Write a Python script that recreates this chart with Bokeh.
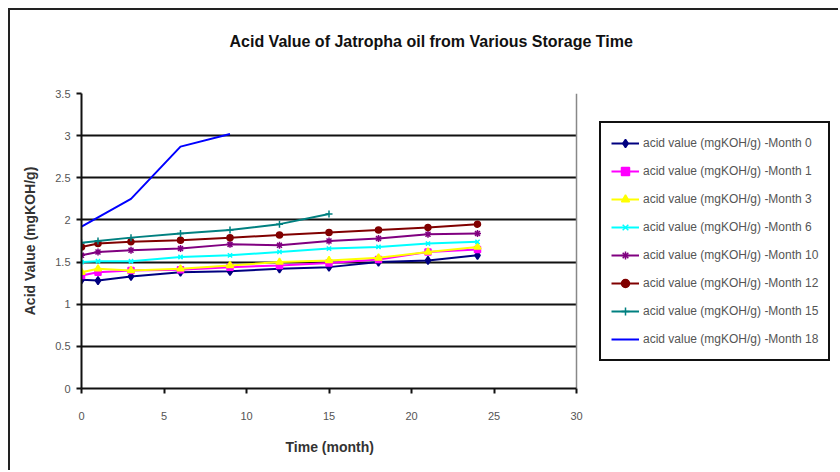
from bokeh.plotting import figure
from bokeh.models import Legend, LegendItem, FixedTicker, Title, Grid
from bokeh.embed import file_html
from bokeh.resources import INLINE

# ---- data ----
months = [0, 1, 3, 6, 9, 12, 15, 18, 21, 24]
av_m0 = [1.29, 1.28, 1.33, 1.38, 1.39, 1.42, 1.44, 1.50, 1.52, 1.58]
av_m1 = [1.34, 1.38, 1.40, 1.41, 1.44, 1.46, 1.49, 1.53, 1.62, 1.65]
av_m3 = [1.38, 1.42, 1.40, 1.42, 1.46, 1.50, 1.52, 1.55, 1.62, 1.68]
av_m6 = [1.50, 1.51, 1.51, 1.56, 1.58, 1.62, 1.66, 1.68, 1.72, 1.74]
av_m10 = [1.58, 1.62, 1.64, 1.66, 1.71, 1.70, 1.75, 1.78, 1.83, 1.84]
av_m12 = [1.68, 1.72, 1.74, 1.76, 1.79, 1.82, 1.85, 1.88, 1.91, 1.95]
months_m15 = [0, 1, 3, 6, 9, 12, 15]
av_m15 = [1.73, 1.75, 1.79, 1.84, 1.88, 1.95, 2.07]
months_m18 = [0, 3, 6, 9]
av_m18 = [1.92, 2.25, 2.87, 3.02]

labels = ["acid value (mgKOH/g) -Month 0", "acid value (mgKOH/g) -Month 1",
          "acid value (mgKOH/g) -Month 3", "acid value (mgKOH/g) -Month 6",
          "acid value (mgKOH/g) -Month 10", "acid value (mgKOH/g) -Month 12",
          "acid value (mgKOH/g) -Month 15", "acid value (mgKOH/g) -Month 18"]
x_ticks = [0, 5, 10, 15, 20, 25, 30]
y_ticks = [0, 0.5, 1, 1.5, 2, 2.5, 3, 3.5]
X_MAX, Y_MAX = 30, 3.5

FONT = "Liberation Sans"

# frame extends under the legend area; axes / grids are bounded to 0..30
p = figure(width=830, height=462, output_backend="svg", toolbar_location=None,
           x_range=(0, 46), y_range=(0, Y_MAX), title=None,
           min_border_left=71, min_border_right=0, min_border_top=83, min_border_bottom=84)
p.styles = {"border-left": "2px solid #222", "border-top": "2px solid #222",
            "margin-left": "8px", "margin-top": "8px"}

# spacer (nearest to frame) then the title above it
p.add_layout(Title(text=" ", text_font_size="1px", standoff=36), "above")
p.add_layout(Title(text="Acid Value of Jatropha oil from Various Storage Time",
                   text_font=FONT, text_font_size="16px", text_font_style="bold",
                   text_color="#111", align="left", offset=148, standoff=10), "above")

# x-axis title, centred under the 0..30 axis
p.add_layout(Title(text="Time (month)", text_font=FONT, text_font_size="14px",
                   text_font_style="bold", text_color="#333", align="left",
                   offset=204, vertical_align="top", standoff=32), "below")

p.outline_line_color = None
p.background_fill_color = "white"
p.border_fill_color = "white"

p.xgrid.visible = False
p.ygrid.ticker = FixedTicker(ticks=[0.5, 1, 1.5, 2, 2.5, 3])
p.ygrid.grid_line_color = "#111"
p.ygrid.grid_line_width = 2
p.ygrid.cross_bounds = (0, X_MAX)

# light plot-area border (top and right)
p.add_layout(Grid(dimension=1, ticker=FixedTicker(ticks=[Y_MAX]), cross_bounds=(0, X_MAX),
                  grid_line_color="#888888", grid_line_width=1.5))
p.add_layout(Grid(dimension=0, ticker=FixedTicker(ticks=[X_MAX]), cross_bounds=(0, Y_MAX),
                  grid_line_color="#888888", grid_line_width=1.5))

for ax in (p.xaxis[0], p.yaxis[0]):
    ax.axis_line_color = "#111"
    ax.axis_line_width = 2
    ax.major_tick_line_color = "#111"
    ax.major_tick_line_width = 2
    ax.major_tick_out = 5
    ax.major_tick_in = 0
    ax.minor_tick_line_color = None
    ax.major_label_text_font = FONT
    ax.major_label_text_font_size = "11px"
    ax.major_label_text_color = "#555"
    ax.axis_label_text_font = FONT
    ax.axis_label_text_font_size = "14px"
    ax.axis_label_text_font_style = "bold"
    ax.axis_label_text_color = "#333"

p.xaxis.bounds = (0, X_MAX)
p.xaxis.ticker = FixedTicker(ticks=x_ticks)
p.yaxis.ticker = FixedTicker(ticks=y_ticks)
p.yaxis.axis_label = "Acid Value (mgKOH/g)"
p.xaxis.major_label_standoff = 18
p.yaxis.major_label_standoff = 6
p.yaxis.axis_label_standoff = 14

series = [
    (months, av_m0, "#000080", "diamond", 8),
    (months, av_m1, "#FF00FF", "square", 6),
    (months, av_m3, "#FFFF00", "triangle", 7),
    (months, av_m6, "#00FFFF", "x", 6),
    (months, av_m10, "#800080", "asterisk", 7),
    (months, av_m12, "#800000", "circle", 6),
    (months_m15, av_m15, "#008080", "cross", 7),
    (months_m18, av_m18, "#0000FF", None, 0),
]

items = []
for (xs, ys, color, marker, size), lab in zip(series, labels):
    rs = [p.line(xs, ys, line_color=color, line_width=2)]
    if marker:
        rs.append(p.scatter(xs, ys, marker=marker, size=size, line_color=color,
                            fill_color=color, line_width=1.5))
    items.append(LegendItem(label=lab, renderers=rs))

legend = Legend(items=items, location=(518, 27), orientation="vertical",
                label_text_font=FONT, label_text_font_size="12px",
                label_text_color="#555", border_line_color="#111",
                border_line_alpha=1.0, border_line_width=2,
                glyph_width=28, glyph_height=20,
                label_height=20, label_standoff=4, spacing=8, padding=10,
                margin=0, background_fill_alpha=1.0)
p.add_layout(legend, "center")

open("out.html", "w").write(file_html(p, INLINE))
